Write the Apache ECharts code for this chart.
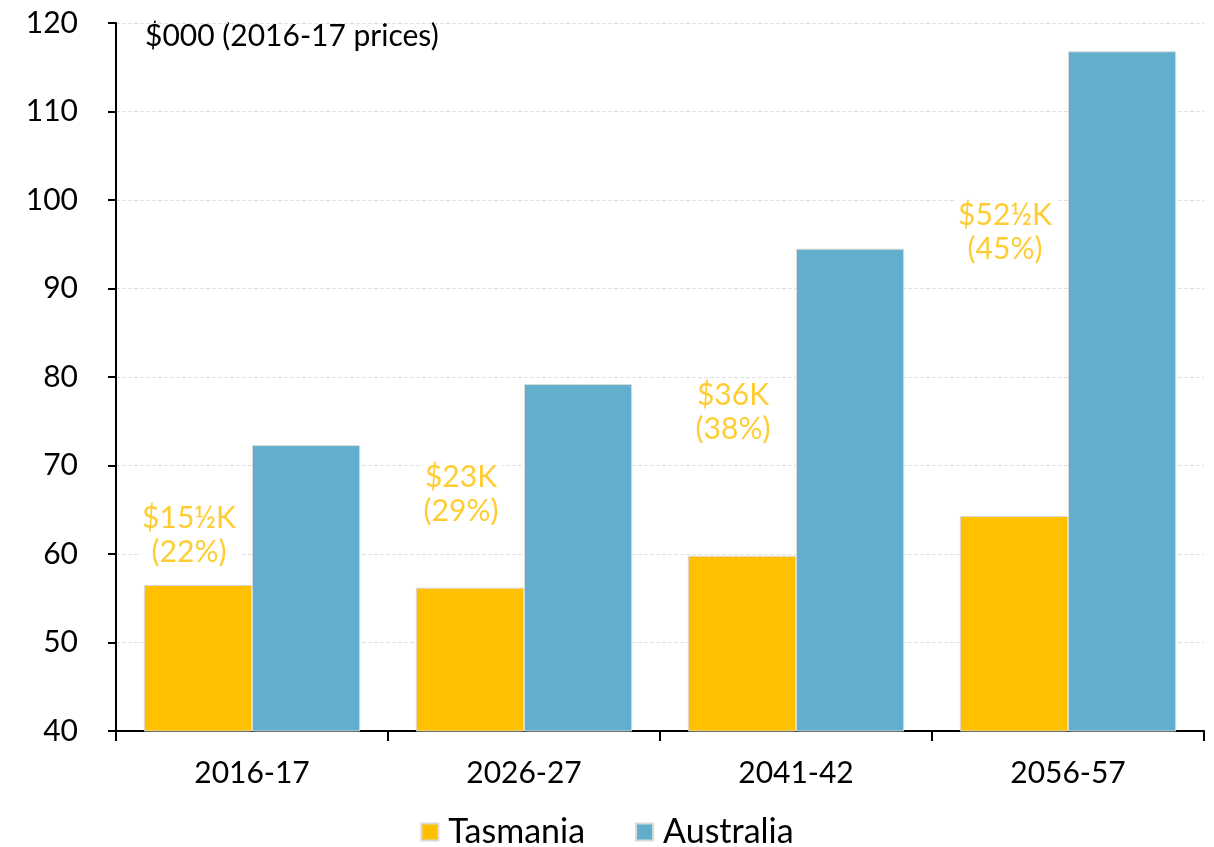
<!DOCTYPE html>
<html>
<head>
<meta charset="utf-8">
<script src="https://cdn.jsdelivr.net/npm/echarts@6/dist/echarts.min.js"></script>
<style>
  html, body { margin: 0; padding: 0; background: #fff; }
  #chart { width: 1214px; height: 847px; }
</style>
</head>
<body>
<div id="chart"></div>
<script>
// Average income per person, $000 in 2016-17 prices
const categories = ['2016-17', '2026-27', '2041-42', '2056-57'];
const tasmania = [56.5, 56.2, 59.8, 64.3];
const australia = [72.3, 79.2, 94.5, 116.8];
// Gap between Tasmania and Australia, shown as text above each Tasmanian bar
const gapLabels = ['$15½K\n(22%)', '$23K\n(29%)', '$36K\n(38%)', '$52½K\n(45%)'];
const gapLabelLevel = [62.1, 66.7, 76.0, 96.4];
const yTicks = { min: 40, max: 120, interval: 10 };

const FONT = 'Lato, "Noto Sans", sans-serif';
const YELLOW = '#FFC000';
const BLUE = '#61AECD';

const chart = echarts.init(document.getElementById('chart'), null, { renderer: 'canvas' });

chart.setOption({
  animation: false,
  backgroundColor: '#fff',
  textStyle: { fontFamily: FONT },
  grid: { left: 116, right: 10, top: 23, bottom: 116, containLabel: false },
  graphic: [{
    type: 'text',
    left: 145,
    top: 21,
    style: { text: '$000 (2016-17 prices)', font: '30px ' + FONT, fill: '#000' }
  }],
  legend: {
    top: 815,
    left: 'center',
    padding: 0,
    itemWidth: 17,
    itemHeight: 17,
    itemGap: 50,
    icon: 'rect',
    textStyle: { fontSize: 34, color: '#000', fontFamily: FONT, padding: [0, 0, 0, 5] },
    data: ['Tasmania', 'Australia']
  },
  xAxis: {
    type: 'category',
    data: categories,
    axisLine: { lineStyle: { color: '#000', width: 2 } },
    axisTick: { show: true, length: 10, lineStyle: { color: '#000', width: 2 }, alignWithLabel: false },
    axisLabel: { fontSize: 30, color: '#000', margin: 27, fontFamily: FONT }
  },
  yAxis: {
    type: 'value',
    min: yTicks.min,
    max: yTicks.max,
    interval: yTicks.interval,
    axisLine: { show: true, lineStyle: { color: '#000', width: 2 } },
    axisTick: { show: true, length: 8, lineStyle: { color: '#000', width: 2 } },
    axisLabel: { fontSize: 30, color: '#000', margin: 38, fontFamily: FONT },
    splitLine: { show: true, lineStyle: { color: '#e0e0e0', type: [4, 2], width: 1 } }
  },
  series: [
    {
      name: 'Tasmania',
      type: 'bar',
      data: tasmania,
      barGap: '0%',
      barCategoryGap: '20.5%',
      itemStyle: { color: YELLOW, borderColor: '#d9d9d9', borderWidth: 1 }
    },
    {
      name: 'Australia',
      type: 'bar',
      data: australia,
      itemStyle: { color: BLUE, borderColor: '#d9d9d9', borderWidth: 1 }
    },
    {
      name: 'gap',
      type: 'scatter',
      symbolSize: 0,
      silent: true,
      z: 5,
      data: categories.map((c, i) => [c, gapLabelLevel[i]]),
      label: {
        show: true,
        position: 'inside',
        offset: [-63, 0],
        formatter: (p) => gapLabels[p.dataIndex],
        color: YELLOW,
        fontSize: 30,
        lineHeight: 34,
        fontFamily: FONT,
        backgroundColor: '#fff',
        padding: [0, 4]
      }
    }
  ]
});
</script>
</body>
</html>
